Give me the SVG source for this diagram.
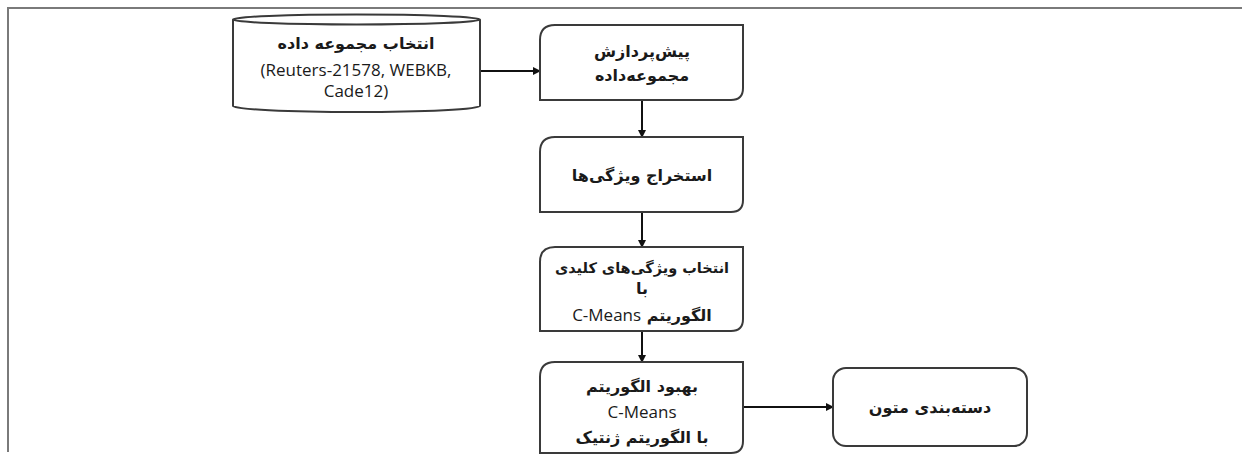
<svg xmlns="http://www.w3.org/2000/svg" width="1242" height="459" viewBox="0 0 1242 459">
<style>
.frame{stroke:#7a7a7a;stroke-width:2;fill:none}
.shape{fill:#ffffff;stroke:#3a3a3a;stroke-width:2}
.conn{stroke:#111;stroke-width:2;fill:none}
.fa{font-family:"DejaVu Sans",sans-serif;font-weight:bold;font-size:16px;fill:#1a1a1a;text-anchor:middle}
.la{font-family:"Open Sans","Liberation Sans",sans-serif;font-size:17px;fill:#1a1a1a;text-anchor:middle}
</style>
<defs>
<marker id="ah" markerWidth="8" markerHeight="8" refX="7" refY="4" orient="auto" markerUnits="userSpaceOnUse">
<path d="M0,0 L8,4 L0,8 z" fill="#111"/>
</marker>
</defs>
<rect width="1242" height="459" fill="#ffffff"/>
<path class="frame" d="M8,452 V8 H1242"/>
<g id="connectors">
<line class="conn" x1="481" y1="71" x2="540" y2="71" marker-end="url(#ah)"/>
<line class="conn" x1="642" y1="100" x2="642" y2="137" marker-end="url(#ah)"/>
<line class="conn" x1="642" y1="212" x2="642" y2="247" marker-end="url(#ah)"/>
<line class="conn" x1="642" y1="331" x2="642" y2="362" marker-end="url(#ah)"/>
<line class="conn" x1="743" y1="407" x2="833" y2="407" marker-end="url(#ah)"/>
</g>
<g id="dataset">
<path class="shape" d="M233,19.5 V106 A123.5,6 0 0 0 480,106 V19.5 A123.5,5 0 0 0 233,19.5 A123.5,5 0 0 0 480,19.5"/>
<text class="fa" x="356" y="49">انتخاب مجموعه داده</text>
<text class="la" x="356" y="76">(Reuters-21578, WEBKB,</text>
<text class="la" x="356" y="97">Cade12)</text>
</g>
<g id="preprocess">
<path class="shape" d="M555,25 H743 V88 Q743,100 731,100 H540 V40 Q540,25 555,25 Z"/>
<text class="fa" x="642" y="57">پیش&#8204;پردازش</text>
<text class="fa" x="642" y="81">مجموعه&#8204;داده</text>
</g>
<g id="extract">
<path class="shape" d="M555,137 H743 V200 Q743,212 731,212 H540 V152 Q540,137 555,137 Z"/>
<text class="fa" x="642" y="181">استخراج ویژگی&#8204;ها</text>
</g>
<g id="select">
<path class="shape" d="M555,247 H743 V319 Q743,331 731,331 H540 V262 Q540,247 555,247 Z"/>
<text class="fa" x="642" y="273" direction="rtl" style="font-size:14.5px">انتخاب ویژگی&#8204;های کلیدی</text>
<text class="fa" x="642" y="294">با</text>
<text class="fa" x="642" y="321" direction="rtl">الگوریتم <tspan style="font-family:'Open Sans','Liberation Sans',sans-serif;font-weight:normal;font-size:17px">C-Means</tspan></text>
</g>
<g id="improve">
<path class="shape" d="M555,362 H743 V441 Q743,453 731,453 H540 V377 Q540,362 555,362 Z"/>
<text class="fa" x="642" y="392">بهبود الگوریتم</text>
<text class="la" x="642" y="418">C-Means</text>
<text class="fa" x="642" y="443" direction="rtl">با الگوریتم ژنتیک</text>
</g>
<g id="classify">
<rect class="shape" x="833" y="368" width="194" height="78" rx="13" ry="13"/>
<text class="fa" x="930" y="413">دسته&#8204;بندی متون</text>
</g>
</svg>
